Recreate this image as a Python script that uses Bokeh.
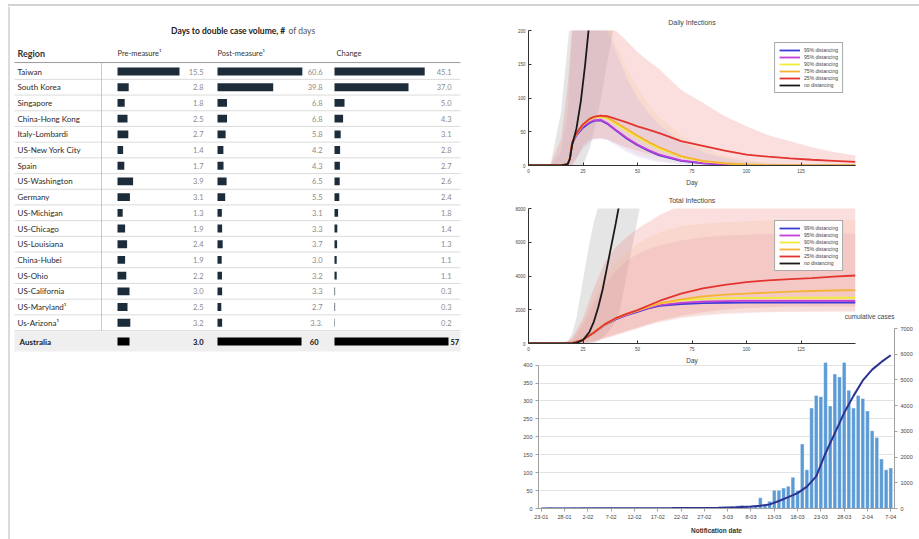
import pandas as pd
from bokeh.plotting import figure
from bokeh.models import Range1d, LinearAxis, FixedTicker, Title, ColumnDataSource, Div
from bokeh.layouts import row, column
from bokeh.embed import file_html
from bokeh.resources import INLINE
from bokeh.core.properties import value

# ------------------------------------------------------------------ data: table
table_title_bold = "Days to double case volume, #"
table_title_rest = "of days"
header_region = "Region"
header_cols = ["Pre-measure\u00b9", "Post-measure\u00b9", "Change"]
regions = ["Taiwan", "South Korea", "Singapore", "China-Hong Kong", "Italy-Lombardi",
           "US-New York City", "Spain", "US-Washington", "Germany", "US-Michigan",
           "US-Chicago", "US-Louisiana", "China-Hubei", "US-Ohio", "US-California",
           "US-Maryland\u00b9", "Us-Arizona\u00b9"]
pre_measure = [15.5, 2.8, 1.8, 2.5, 2.7, 1.4, 1.7, 3.9, 3.1, 1.3, 1.9, 2.4, 1.9, 2.2, 3.0, 2.5, 3.2]
post_measure = [60.6, 39.8, 6.8, 6.8, 5.8, 4.2, 4.3, 6.5, 5.5, 3.1, 3.3, 3.7, 3.0, 3.2, 3.3, 2.7, 3.3]
change = [45.1, 37.0, 5.0, 4.3, 3.1, 2.8, 2.7, 2.6, 2.4, 1.8, 1.4, 1.3, 1.1, 1.1, 0.3, 0.3, 0.2]
post_labels = ["60.6", "39.8", "6.8", "6.8", "5.8", "4.2", "4.3", "6.5", "5.5", "3.1",
               "3.3", "3.7", "3.0", "3.2", "3.3", "2.7", "3.3."]
aus_name = "Australia"
aus_values = [3.0, 60, 57]
aus_labels = ["3.0", "60", "57"]

# ------------------------------------------------------------------ data: simulations
scenarios = ["99% distancing", "95% distancing", "90% distancing", "75% distancing",
             "25% distancing", "no distancing"]
day_grid = [0, 10, 15, 18, 19, 20, 22, 25, 28, 30, 33, 36, 40, 45, 50, 55, 60, 70, 80, 90,
            100, 110, 120, 130, 140, 150]
daily_99 = [0, 0, 0.3, 2, 10, 32, 45, 56, 63, 66, 67, 62, 52, 40, 30, 22, 15, 7, 3, 1.5, 0.5, 0.3, 0, 0, 0, 0]
daily_95 = [0, 0, 0.3, 2, 11, 33, 46, 58, 64, 67, 68, 63, 53, 41, 31, 23, 16, 7.5, 3.5, 1.5, 0.6, 0.3, 0, 0, 0, 0]
daily_90 = [0, 0, 0.3, 2, 11, 34, 47, 60, 68, 71, 72, 70, 62, 52, 42, 33, 25, 13, 6, 3, 1.5, 0.5, 0.3, 0, 0, 0]
daily_75 = [0, 0, 0.3, 2, 11, 34, 48, 61, 69, 72, 73, 71, 64, 54, 44, 35, 27, 14, 7, 3.5, 1.5, 0.7, 0.3, 0.1, 0, 0]
daily_25 = [0, 0, 0.3, 2, 11, 34, 48, 61, 69, 72, 74, 73, 69, 64, 58, 53, 48, 36, 29, 22, 16, 13, 10.5, 8.5, 7, 5.5]
nd_daily_days = [0, 15, 18, 19, 20, 22, 24, 26, 28, 30]
nd_daily = [0, 0.3, 2, 10, 30, 55, 95, 150, 215, 300]
# uncertainty bands (daily)
nd_band_days = [10, 15, 18, 19, 20, 22, 25, 28, 30, 33, 36, 40, 45]
nd_band_hi = [0, 80, 180, 210, 250, 330, 500, 700, 850, 1000, 1000, 1000, 1000]
nd_band_lo = [0, 0, 0, 0, 0, 0, 0, 25, 50, 95, 150, 220, 320]
d25_hi = [0, 0, 40, 120, 160, 200, 240, 270, 280, 280, 260, 215, 200, 185, 168, 155, 143, 112, 93, 73, 58, 45, 36, 27, 20, 15]
d25_lo = [0, 0, 0, 0, 0, 0, 10, 30, 38, 40, 40, 38, 33, 27, 22, 17, 14, 9, 6, 4, 3, 2, 1.5, 1, 0.5, 0.5]
d75_hi = [0, 0, 20, 80, 140, 200, 240, 260, 260, 250, 230, 210, 180, 145, 115, 90, 72, 45, 26, 15, 8, 4, 2, 1, 0.5, 0]
d75_lo = [0, 0, 0, 0, 0, 2, 12, 25, 36, 40, 42, 40, 33, 24, 16, 11, 7, 2.5, 1, 0.3, 0, 0, 0, 0, 0, 0]
d99_hi = [0, 0, 20, 80, 140, 200, 230, 250, 240, 230, 215, 200, 170, 130, 100, 78, 60, 36, 20, 11, 6, 3, 1.5, 0.5, 0, 0]
d99_lo = [0, 0, 0, 0, 0, 2, 12, 25, 35, 38, 40, 38, 30, 20, 13, 8, 5, 1.5, 0.5, 0, 0, 0, 0, 0, 0, 0]

total_grid = [0, 15, 20, 25, 30, 35, 40, 45, 50, 55, 60, 70, 80, 90, 100, 110, 120, 130, 140, 150]
total_99 = [0, 0, 20, 220, 640, 1100, 1430, 1680, 1880, 2080, 2230, 2340, 2390, 2410, 2420, 2425, 2430, 2430, 2430, 2430]
total_95 = [0, 0, 20, 220, 645, 1110, 1450, 1700, 1910, 2110, 2270, 2410, 2480, 2510, 2520, 2525, 2530, 2530, 2530, 2530]
total_90 = [0, 0, 20, 220, 650, 1130, 1480, 1740, 1950, 2170, 2360, 2560, 2650, 2690, 2700, 2705, 2710, 2710, 2710, 2710]
total_75 = [0, 0, 20, 220, 650, 1140, 1490, 1760, 1970, 2190, 2380, 2620, 2790, 2900, 2960, 3020, 3070, 3110, 3140, 3160]
total_25 = [0, 0, 20, 220, 650, 1150, 1500, 1760, 1980, 2250, 2520, 2960, 3270, 3480, 3640, 3740, 3810, 3880, 3960, 4030]
nd_total_days = [0, 15, 18, 20, 22, 25, 28, 30, 32, 34, 36, 38, 40, 42, 44]
nd_total = [0, 0, 0, 5, 40, 200, 700, 1300, 2150, 3200, 4500, 5800, 7100, 8500, 10000]
nd_tband_days = [15, 18, 20, 22, 25, 28, 30, 32, 34, 36, 38, 40, 42, 45, 48, 51, 53]
nd_tband_hi = [0, 100, 600, 1500, 3800, 6000, 7200, 8100, 9000, 10000, 10000, 10000, 10000, 10000, 10000, 10000, 10000]
nd_tband_lo = [0, 0, 0, 0, 0, 0, 50, 150, 350, 600, 900, 1300, 2000, 4000, 6000, 8000, 9500]
t25_hi = [0, 0, 300, 1500, 3300, 4800, 5700, 6300, 6800, 7200, 7600, 8200, 8700, 9000, 9200, 9300, 9400, 9500, 9500, 9500]
t25_lo = [0, 0, 0, 30, 150, 350, 550, 750, 950, 1150, 1350, 1650, 1850, 2000, 2100, 2150, 2200, 2200, 2200, 2200]
t75_hi = [0, 0, 250, 1300, 2800, 4000, 4800, 5400, 5900, 6300, 6600, 6950, 7100, 7200, 7250, 7300, 7300, 7300, 7300, 7300]
t75_lo = [0, 0, 0, 20, 120, 300, 500, 700, 900, 1100, 1300, 1550, 1700, 1800, 1850, 1880, 1900, 1900, 1900, 1900]
t99_hi = [0, 0, 200, 1100, 2400, 3500, 4300, 4900, 5300, 5600, 5800, 6100, 6300, 6400, 6450, 6500, 6500, 6500, 6500, 6500]
t99_lo = [0, 0, 0, 10, 100, 280, 480, 680, 880, 1080, 1250, 1500, 1650, 1750, 1800, 1850, 1870, 1880, 1890, 1900]

# ------------------------------------------------------------------ data: Australia notifications
first_date = "2020-01-23"
daily_cases = [0, 0, 3, 1, 1, 0, 1, 2, 0,                                   # Jan 23-31
               3, 2, 0, 1, 0, 1, 0, 0, 0, 0, 0, 0, 0, 0, 0, 0, 0, 0, 0, 0,   # Feb 1-20
               2, 3, 0, 1, 1, 0, 1, 1, 2,                                   # Feb 21-29
               2, 3, 4, 6, 8, 9, 5, 4, 6, 30, 10, 20, 51, 51, 57, 62, 87, 50,  # Mar 1-18
               180, 108, 280, 315, 312, 407, 286, 375, 367, 407, 330, 280, 315,  # Mar 19-31
               307, 272, 217, 198, 138, 108, 113]                            # Apr 1-7
cum_dates = ["2020-01-23", "2020-02-20", "2020-03-01", "2020-03-05", "2020-03-08", "2020-03-10",
             "2020-03-12", "2020-03-14", "2020-03-16", "2020-03-18", "2020-03-20", "2020-03-22",
             "2020-03-24", "2020-03-26", "2020-03-28", "2020-03-30", "2020-04-01", "2020-04-03",
             "2020-04-05", "2020-04-07"]
cum_cases = [0, 15, 25, 50, 80, 110, 160, 290, 440, 600, 850, 1250, 2150, 2930, 3720, 4380,
             4980, 5400, 5700, 5960]

# ------------------------------------------------------------------ styles / layout
TAB_FONT = "Lato"
SANS = "Liberation Sans"
BAR = "#1d2c3b"
COLORS = ["#3b3bd9", "#c040d8", "#efed3a", "#f5b335", "#e3342f", "#1a1a1a"]

TOP = 6                         # page y where the figures start (under the frame line)
ROW0, ROWH = 71, 15.7           # page-pixel centre of first row, row pitch
LW, LH = 495, 533
COL_ZERO = {"pre": 117, "post": 217, "chg": 334}
COL_SCALE = {"pre": 4.0, "post": 1.40, "chg": 2.0}
COL_LABEL_X = {"pre": 203, "post": 322, "chg": 451}

# ================================================================== table figure
tf = figure(width=LW, height=LH, x_range=Range1d(0, LW),
            y_range=Range1d(TOP + LH, TOP),
            x_axis_location=None, y_axis_location=None, toolbar_location=None,
            output_backend="svg", min_border=0)
tf.grid.visible = False
tf.outline_line_color = None
tf.extra_y_ranges = {"rows": Range1d(start=(TOP + LH - ROW0) / ROWH,
                                     end=(TOP - ROW0) / ROWH)}
tf.extra_x_ranges = {k: Range1d((0 - COL_ZERO[k]) / COL_SCALE[k],
                                (LW - COL_ZERO[k]) / COL_SCALE[k]) for k in COL_ZERO}

n = len(regions)
ys = list(range(n))
aus_y = n - 1 + 1.2
src = ColumnDataSource(dict(
    y=ys, region=regions, pre=pre_measure, post=post_measure, chg=change,
    pre_t=[f"{v:.1f}" for v in pre_measure], post_t=post_labels,
    chg_t=[f"{v:.1f}" for v in change]))

# screenshot frame line
tf.segment(x0=8.5, x1=8.5, y0=TOP, y1=TOP + LH, line_color="#cfcfcf", line_width=1.5)
# Australia highlight
tf.quad(left=14, right=460, top=aus_y - 0.64, bottom=aus_y + 0.64, y_range_name="rows",
        fill_color="#efefef", line_color=None)
# row lines
tf.segment(x0=14, x1=460, y0=[i + 0.5 for i in ys], y1=[i + 0.5 for i in ys],
           y_range_name="rows", line_color="#d2d2d2", line_width=0.8)
tf.segment(x0=14, x1=460, y0=-0.57, y1=-0.57, y_range_name="rows",
           line_color="#9a9a9a", line_width=1)
tf.segment(x0=101, x1=101, y0=-0.57, y1=n - 0.5, y_range_name="rows",
           line_color="#bdbdbd", line_width=0.8)

for key, field, lab in [("pre", "pre", "pre_t"), ("post", "post", "post_t"), ("chg", "chg", "chg_t")]:
    tf.hbar(y="y", left=0, right=field, height=0.5, source=src, x_range_name=key,
            y_range_name="rows", fill_color=BAR, line_color=None)
    tf.text(x=COL_LABEL_X[key], y="y", text=lab, source=src, y_range_name="rows",
            text_align="right", text_baseline="middle", text_font=value(TAB_FONT),
            text_font_size="7.5px", text_color="#8a8a8a")

for key, v in zip(["pre", "post", "chg"], aus_values):
    tf.hbar(y=[aus_y], left=0, right=[v], height=0.5, x_range_name=key,
            y_range_name="rows", fill_color="#000000", line_color=None)
tf.text(x=[203, 318], y=[aus_y, aus_y], text=aus_labels[:2], y_range_name="rows",
        text_align="right", text_baseline="middle", text_font=value(TAB_FONT),
        text_font_size="7.5px", text_font_style="bold", text_color="#111111")
tf.text(x=[COL_ZERO["chg"] + aus_values[2] * COL_SCALE["chg"] + 2], y=[aus_y], text=[aus_labels[2]],
        y_range_name="rows", text_align="left", text_baseline="middle",
        text_font=value(TAB_FONT), text_font_size="7.5px", text_font_style="bold",
        text_color="#111111")

tf.text(x=17, y="y", text="region", source=src, y_range_name="rows",
        text_align="left", text_baseline="middle", text_font=value(TAB_FONT),
        text_font_size="8px", text_color="#2a2a2a")
tf.text(x=[19], y=[aus_y], text=[aus_name], y_range_name="rows", text_align="left",
        text_baseline="middle", text_font=value(TAB_FONT), text_font_size="8px",
        text_font_style="bold", text_color="#222222")

# headers & title
tf.text(x=[17], y=[53], text=[header_region], text_align="left", text_baseline="middle",
        text_font=value(TAB_FONT), text_font_size="9px", text_font_style="bold",
        text_color="#333333")
tf.text(x=[117, 217, 336], y=[53, 53, 53], text=header_cols, text_align="left",
        text_baseline="middle", text_font=value(TAB_FONT), text_font_size="7.5px",
        text_color="#333333")
tf.text(x=[285], y=[30], text=[table_title_bold], text_align="right", text_baseline="middle",
        text_font=value(TAB_FONT), text_font_size="8.5px", text_font_style="bold",
        text_color="#222222")
tf.text(x=[288], y=[30], text=[table_title_rest], text_align="left", text_baseline="middle",
        text_font=value(TAB_FONT), text_font_size="8.5px", text_color="#555555")


# ================================================================== simulation figures
def sim_figure(title, top_border, bottom_border, y_max, y_ticks):
    p = figure(title=title, frame_width=327, frame_height=135,
               x_range=Range1d(0, 150), y_range=Range1d(0, y_max),
               min_border_left=33, min_border_right=8, min_border_top=top_border,
               min_border_bottom=bottom_border, toolbar_location=None, output_backend="svg")
    p.title.align = "center"
    p.title.text_font = SANS
    p.title.text_font_size = "7px"
    p.title.text_font_style = "normal"
    p.title.text_color = "#444444"
    p.title.standoff = 9
    p.grid.visible = False
    p.outline_line_color = None
    p.xaxis.ticker = FixedTicker(ticks=[0, 25, 50, 75, 100, 125])
    p.yaxis.ticker = FixedTicker(ticks=y_ticks)
    p.xaxis.axis_label = "Day"
    p.xaxis.axis_label_text_font = SANS
    p.xaxis.axis_label_text_font_size = "6.5px"
    p.xaxis.axis_label_text_font_style = "normal"
    p.xaxis.axis_label_text_color = "#444444"
    p.xaxis.axis_label_standoff = 3
    for ax in p.axis:
        ax.major_tick_in = 3
        ax.major_tick_out = 0
        ax.minor_tick_line_color = None
        ax.major_label_text_font = SANS
        ax.major_label_text_font_size = "4.5px"
        ax.major_label_text_color = "#444444"
        ax.major_label_standoff = 3
        ax.axis_line_color = "#333333"
        ax.major_tick_line_color = "#333333"
    return p


def style_legend(p):
    p.legend.location = "top_right"
    p.legend.margin = 12
    p.legend.padding = 4
    p.legend.spacing = 1
    p.legend.label_height = 6
    p.legend.glyph_height = 6
    p.legend.glyph_width = 21
    p.legend.label_standoff = 4
    p.legend.label_text_font = SANS
    p.legend.label_text_font_size = "5px"
    p.legend.label_text_color = "#444444"
    p.legend.border_line_color = "#555555"
    p.legend.border_line_width = 1


df = sim_figure("Daily Infections", 24, 23, 200, [0, 50, 100, 150, 200])
df.varea(x=nd_band_days, y1=nd_band_lo, y2=nd_band_hi, fill_color="#a8a8a8", fill_alpha=0.3)
df.varea(x=day_grid, y1=d25_lo, y2=d25_hi, fill_color="#ef7f7f", fill_alpha=0.25)
df.varea(x=day_grid, y1=d75_lo, y2=d75_hi, fill_color="#f7c98a", fill_alpha=0.2)
df.varea(x=day_grid, y1=d99_lo, y2=d99_hi, fill_color="#b3a3f0", fill_alpha=0.2)
for name, ys_, col in zip(scenarios[:5], [daily_99, daily_95, daily_90, daily_75, daily_25], COLORS):
    df.line(day_grid, ys_, line_color=col, line_width=1.8, legend_label=name)
df.line(nd_daily_days, nd_daily, line_color=COLORS[5], line_width=1.8, legend_label=scenarios[5])
style_legend(df)

tt = sim_figure("Total Infections", 20, 17, 8000, [0, 2000, 4000, 6000, 8000])
tt.varea(x=nd_tband_days, y1=nd_tband_lo, y2=nd_tband_hi, fill_color="#a8a8a8", fill_alpha=0.3)
tt.varea(x=total_grid, y1=t25_lo, y2=t25_hi, fill_color="#ef7f7f", fill_alpha=0.25)
tt.varea(x=total_grid, y1=t75_lo, y2=t75_hi, fill_color="#f7b98a", fill_alpha=0.2)
tt.varea(x=total_grid, y1=t99_lo, y2=t99_hi, fill_color="#e08aa0", fill_alpha=0.18)
for name, ys_, col in zip(scenarios[:5], [total_99, total_95, total_90, total_75, total_25], COLORS):
    tt.line(total_grid, ys_, line_color=col, line_width=1.8, legend_label=name)
tt.line(nd_total_days, nd_total, line_color=COLORS[5], line_width=1.8, legend_label=scenarios[5])
style_legend(tt)

# ================================================================== Australia notifications
start = pd.Timestamp(first_date)
bar_dates = pd.date_range(start, periods=len(daily_cases), freq="D")
bar_x = [(d - start).days for d in bar_dates]
line_x = [(pd.Timestamp(d) - start).days for d in cum_dates]
tick_x = list(range(0, len(daily_cases), 5))
tick_labels = {t: f"{bar_dates[t].day}-{bar_dates[t].month:02d}" for t in tick_x}

cf = figure(frame_width=356, frame_height=180, x_range=Range1d(-0.6, 75.8),
            y_range=Range1d(0, 502), min_border_left=33, min_border_top=24,
            min_border_bottom=28, min_border_right=4, toolbar_location=None,
            output_backend="svg")
cf.margin = (-65, 0, 0, 10)
cf.background_fill_alpha = 0
cf.border_fill_alpha = 0
cf.outline_line_color = None
cf.extra_y_ranges = {"cum": Range1d(0, 7000)}
cf.vbar(x=bar_x, top=daily_cases, width=0.8, fill_color="#5b9bd5", line_color="#ffffff",
        line_width=0.4)
cf.line(line_x, cum_cases, y_range_name="cum", line_color="#2e3192", line_width=2)
cf.xgrid.visible = False
cf.ygrid.ticker = FixedTicker(ticks=list(range(0, 401, 50)))
cf.ygrid.grid_line_color = "#e3e3e3"
cf.yaxis.ticker = FixedTicker(ticks=list(range(0, 401, 50)))
cf.yaxis.bounds = (0, 400)
cf.xaxis.ticker = FixedTicker(ticks=tick_x)
cf.xaxis.major_label_overrides = tick_labels
cf.xaxis.axis_label = "Notification date"
cf.xaxis.axis_label_text_font = SANS
cf.xaxis.axis_label_text_font_size = "6.5px"
cf.xaxis.axis_label_text_font_style = "bold"
cf.xaxis.axis_label_text_color = "#333333"
cf.xaxis.axis_label_standoff = 5
right = LinearAxis(y_range_name="cum", ticker=FixedTicker(ticks=list(range(0, 7001, 1000))))
cf.add_layout(right, "right")
for ax in cf.axis:
    ax.major_tick_in = 0
    ax.major_tick_out = 3
    ax.minor_tick_line_color = None
    ax.major_label_text_font = SANS
    ax.major_label_text_font_size = "5.5px"
    ax.major_label_text_color = "#444444"
    ax.major_label_standoff = 3
    ax.axis_line_color = "#a0a0a0"
    ax.major_tick_line_color = "#a0a0a0"
cf.add_layout(Title(text="cumulative cases", align="right", text_font=SANS,
                    text_font_size="6.5px", text_font_style="normal",
                    text_color="#444444", standoff=18), "above")

frame_line = Div(text="", width=911, height=6, margin=(0, 0, 0, 8),
                 styles={"border-bottom": "2px solid #d2d2d2"})
layout = column(frame_line, row(tf, column(df, tt, cf)))
open("out.html", "w").write(file_html(layout, INLINE))
